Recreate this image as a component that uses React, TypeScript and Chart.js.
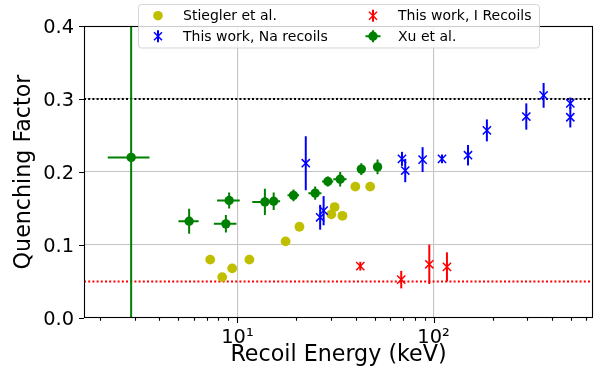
import { useEffect, useRef } from 'react';
import { Chart, registerables } from 'chart.js';

Chart.register(...registerables);

// ---------- data ----------
const STIEGLER_E = [7.26, 8.36, 9.4, 11.5, 17.6, 20.7, 30.1, 31.3, 34.3, 39.9, 47.5];
const STIEGLER_Q = [0.080, 0.056, 0.068, 0.080, 0.105, 0.125, 0.142, 0.152, 0.140, 0.180, 0.180];

const NA_E = [22.3, 26.4, 27.5, 69.0, 71.7, 87.9, 110.4, 149.8, 187, 297, 364, 498, 498];
const NA_Q = [0.212, 0.138, 0.147, 0.218, 0.202, 0.217, 0.218, 0.223, 0.257, 0.276, 0.305, 0.294, 0.275];
const NA_QERR = [0.037, 0.017, 0.020, 0.0096, 0.016, 0.017, 0.006, 0.014, 0.015, 0.018, 0.017, 0.008, 0.014];

const I_E = [42.3, 68.4, 95.1, 117];
const I_Q = [0.071, 0.0526, 0.0736, 0.070];
const I_QERR = [0.006, 0.012, 0.027, 0.020];

const XU_E = [2.87, 5.67, 8.73, 9.07, 13.8, 15.3, 19.3, 24.9, 28.9, 33.4, 42.8, 51.8];
const XU_EERR = [0.69, 0.67, 1.15, 1.2, 1.9, 1.2, 1.3, 1.9, 1.9, 2.6, 1.5, 1.5];
const XU_Q = [0.22, 0.1325, 0.129, 0.161, 0.159, 0.16, 0.168, 0.171, 0.187, 0.19, 0.204, 0.207];
const XU_QERR = [0.23, 0.017, 0.012, 0.011, 0.018, 0.012, 0.008, 0.009, 0.007, 0.010, 0.008, 0.010];

const REF_LINE_VALUES = [0.3, 0.05];
const REF_LINE_COLORS = ['#000000', '#ff0000'];

const X_MIN = 1.65;
const X_MAX = 650;
const X_TICKS = [2, 3, 4, 5, 6, 7, 8, 9, 10, 20, 30, 40, 50, 60, 70, 80, 90, 100, 200, 300, 400, 500, 600];
const X_MAJOR = [10, 100];
const X_MAJOR_LABELS = ['10¹', '10²'];
const Y_TICKS = [0, 0.1, 0.2, 0.3, 0.4];

const LABELS = ['Stiegler et al.', 'This work, Na recoils', 'This work, I Recoils', 'Xu et al.'];
const COLORS = ['#bfbf00', '#0000ff', '#ff0000', '#008000'];

const FONT = '"DejaVu Sans", "Liberation Sans", sans-serif';

// target plot box (pixels)
const AREA = { left: 84, right: 593, top: 26, bottom: 318 };

type Series = {
  e: number[];
  q: number[];
  qerr?: number[];
  eerr?: number[];
  color: string;
  kind: 'circle' | 'xbar' | 'circlebar';
};

const SERIES: Series[] = [
  { e: STIEGLER_E, q: STIEGLER_Q, color: COLORS[0], kind: 'circle' },
  { e: NA_E, q: NA_Q, qerr: NA_QERR, color: COLORS[1], kind: 'xbar' },
  { e: I_E, q: I_Q, qerr: I_QERR, color: COLORS[2], kind: 'xbar' },
  { e: XU_E, q: XU_Q, qerr: XU_QERR, eerr: XU_EERR, color: COLORS[3], kind: 'circlebar' },
];

function drawHandle(ctx: CanvasRenderingContext2D, kind: string, color: string, cx: number, cy: number) {
  ctx.save();
  ctx.strokeStyle = color;
  ctx.fillStyle = color;
  if (kind === 'circle') {
    ctx.beginPath();
    ctx.arc(cx, cy, 4.8, 0, Math.PI * 2);
    ctx.fill();
  } else if (kind === 'xbar') {
    ctx.lineWidth = 2;
    ctx.beginPath();
    ctx.moveTo(cx, cy - 6);
    ctx.lineTo(cx, cy + 6);
    ctx.stroke();
    ctx.lineWidth = 1.5;
    ctx.beginPath();
    ctx.moveTo(cx - 4, cy - 4);
    ctx.lineTo(cx + 4, cy + 4);
    ctx.moveTo(cx + 4, cy - 4);
    ctx.lineTo(cx - 4, cy + 4);
    ctx.stroke();
  } else {
    ctx.lineWidth = 2;
    ctx.beginPath();
    ctx.moveTo(cx, cy - 6);
    ctx.lineTo(cx, cy + 6);
    ctx.moveTo(cx - 7.5, cy);
    ctx.lineTo(cx + 7.5, cy);
    ctx.stroke();
    ctx.beginPath();
    ctx.arc(cx, cy, 4.7, 0, Math.PI * 2);
    ctx.fill();
  }
  ctx.restore();
}

const overlayPlugin = {
  id: 'overlay',
  afterLayout(chart: any) {
    // pin the plot box to the target size
    const a = chart.chartArea;
    const xs = chart.scales.x;
    if (a && xs && Math.abs(a.right - AREA.right) > 0.1) {
      a.right = AREA.right;
      a.width = a.right - a.left;
      xs.right = AREA.right;
      xs.width = xs.right - xs.left;
      xs.configure();
    }
  },
  beforeDatasetsDraw(chart: any) {
    const { ctx, chartArea: a, scales } = chart;
    const xs = scales.x;
    const ys = scales.y;
    ctx.save();
    ctx.beginPath();
    ctx.rect(a.left, a.top, a.right - a.left, a.bottom - a.top);
    ctx.clip();
    REF_LINE_VALUES.forEach((v, i) => {
      const py = ys.getPixelForValue(v);
      ctx.strokeStyle = REF_LINE_COLORS[i];
      ctx.lineWidth = 2;
      ctx.setLineDash([2, 2.2]);
      ctx.beginPath();
      ctx.moveTo(a.left, py);
      ctx.lineTo(a.right, py);
      ctx.stroke();
    });
    ctx.setLineDash([]);
    SERIES.forEach((s) => {
      ctx.strokeStyle = s.color;
      ctx.lineWidth = 2;
      s.e.forEach((e, i) => {
        const px = xs.getPixelForValue(e);
        const py = ys.getPixelForValue(s.q[i]);
        ctx.beginPath();
        if (s.qerr) {
          ctx.moveTo(px, ys.getPixelForValue(s.q[i] - s.qerr[i]));
          ctx.lineTo(px, ys.getPixelForValue(s.q[i] + s.qerr[i]));
        }
        if (s.eerr) {
          ctx.moveTo(xs.getPixelForValue(e - s.eerr[i]), py);
          ctx.lineTo(xs.getPixelForValue(e + s.eerr[i]), py);
        }
        ctx.stroke();
      });
    });
    ctx.restore();
  },
  afterDraw(chart: any) {
    const { ctx, chartArea: a, scales } = chart;
    const xs = scales.x;
    const ys = scales.y;
    ctx.save();
    ctx.strokeStyle = '#000';
    ctx.lineWidth = 1.1;
    ctx.strokeRect(a.left + 0.5, a.top + 0.5, a.right - a.left - 1, a.bottom - a.top - 1);
    ctx.beginPath();
    X_TICKS.forEach((v) => {
      const px = Math.round(xs.getPixelForValue(v)) + 0.5;
      const len = X_MAJOR.includes(v) ? 5 : 2.8;
      ctx.moveTo(px, a.bottom);
      ctx.lineTo(px, a.bottom + len);
    });
    Y_TICKS.forEach((v) => {
      const py = Math.round(ys.getPixelForValue(v)) + 0.5;
      ctx.moveTo(a.left, py);
      ctx.lineTo(a.left - 5, py);
    });
    ctx.stroke();
    // legend
    const bx = 138.5, by = 4.5, bw = 401, bh = 43.5, r = 3;
    ctx.beginPath();
    ctx.moveTo(bx + r, by);
    ctx.lineTo(bx + bw - r, by);
    ctx.quadraticCurveTo(bx + bw, by, bx + bw, by + r);
    ctx.lineTo(bx + bw, by + bh - r);
    ctx.quadraticCurveTo(bx + bw, by + bh, bx + bw - r, by + bh);
    ctx.lineTo(bx + r, by + bh);
    ctx.quadraticCurveTo(bx, by + bh, bx, by + bh - r);
    ctx.lineTo(bx, by + r);
    ctx.quadraticCurveTo(bx, by, bx + r, by);
    ctx.closePath();
    ctx.fillStyle = 'rgba(255,255,255,0.8)';
    ctx.fill();
    ctx.strokeStyle = 'rgba(204,204,204,0.8)';
    ctx.lineWidth = 1;
    ctx.stroke();
    const colX = [158, 373];
    const textX = [183, 398];
    const rowY = [15.7, 36.3];
    ctx.font = `14px ${FONT}`;
    ctx.textBaseline = 'middle';
    ctx.textAlign = 'left';
    SERIES.forEach((s, i) => {
      const col = Math.floor(i / 2);
      const row = i % 2;
      drawHandle(ctx, s.kind, s.color, colX[col], rowY[row]);
      ctx.fillStyle = '#000';
      ctx.fillText(LABELS[i], textX[col], rowY[row] + 0.8);
    });
    ctx.restore();
  },
};

export default function App() {
  const ref = useRef<HTMLCanvasElement | null>(null);
  useEffect(() => {
    if (!ref.current) return;
    Chart.defaults.font.family = FONT;
    const datasets = SERIES.map((s, i) => ({
      label: LABELS[i],
      data: s.e.map((e, j) => ({ x: e, y: s.q[j] })),
      showLine: false,
      pointStyle: s.kind === 'xbar' ? 'crossRot' : 'circle',
      pointRadius: s.kind === 'xbar' ? 5.8 : s.kind === 'circle' ? 4.9 : 4.7,
      pointHoverRadius: s.kind === 'xbar' ? 5.8 : 4.8,
      pointBorderWidth: s.kind === 'xbar' ? 1.5 : 0,
      borderColor: s.color,
      backgroundColor: s.color,
      order: [2, 1, 3, 0][i],
    }));
    const chart = new Chart(ref.current, {
      type: 'scatter',
      data: { datasets },
      plugins: [overlayPlugin],
      options: {
        animation: false,
        responsive: false,
        events: [],
        layout: { padding: { top: AREA.top, right: 594 - AREA.right, left: 0, bottom: 0 } },
        plugins: { legend: { display: false }, tooltip: { enabled: false } },
        scales: {
          x: {
            type: 'logarithmic',
            min: X_MIN,
            max: X_MAX,
            afterBuildTicks: (scale: any) => {
              scale.ticks = X_TICKS.map((v) => ({ value: v }));
            },
            afterFit: (scale: any) => {
              scale.height = 380 - AREA.bottom;
              scale.paddingLeft = 0;
              scale.paddingRight = 0;
            },
            border: { display: false },
            grid: {
              drawTicks: false,
              lineWidth: 1.1,
              color: (c: any) => (c.tick && X_MAJOR.includes(c.tick.value) ? '#c4c4c4' : 'rgba(0,0,0,0)'),
            },
            ticks: {
              autoSkip: false,
              maxRotation: 0,
              minRotation: 0,
              padding: 8,
              color: '#000',
              font: { size: 19.4, family: FONT },
              callback: (v: any) => {
                const k = X_MAJOR.indexOf(Number(v));
                return k >= 0 ? X_MAJOR_LABELS[k] : '';
              },
            },
            title: {
              display: true,
              text: 'Recoil Energy (keV)',
              color: '#000',
              font: { size: 22.2, family: FONT },
              padding: { top: 0, bottom: 11 },
            },
          },
          y: {
            type: 'linear',
            min: 0,
            max: 0.4,
            afterBuildTicks: (scale: any) => {
              scale.ticks = Y_TICKS.map((v) => ({ value: v }));
            },
            afterFit: (scale: any) => {
              scale.width = AREA.left;
              scale.paddingTop = 0;
              scale.paddingBottom = 0;
            },
            border: { display: false },
            grid: {
              drawTicks: false,
              lineWidth: 1.1,
              color: (c: any) =>
                c.tick && c.tick.value > 0.01 && c.tick.value < 0.39 ? '#c4c4c4' : 'rgba(0,0,0,0)',
            },
            ticks: {
              padding: 10,
              labelOffset: 1.5,
              color: '#000',
              font: { size: 19.4, family: FONT },
              callback: (v: any) => Number(v).toFixed(1),
            },
            title: {
              display: true,
              text: 'Quenching Factor',
              color: '#000',
              font: { size: 22.2, family: FONT },
              padding: { top: 11, bottom: 0 },
            },
          },
        },
      } as any,
    });
    return () => chart.destroy();
  }, []);
  return (
    <div style={{ position: 'fixed', left: 0, top: 0, width: 594, height: 380, background: '#fff' }}>
      <canvas ref={ref} width={594} height={380} style={{ display: 'block' }} />
    </div>
  );
}
